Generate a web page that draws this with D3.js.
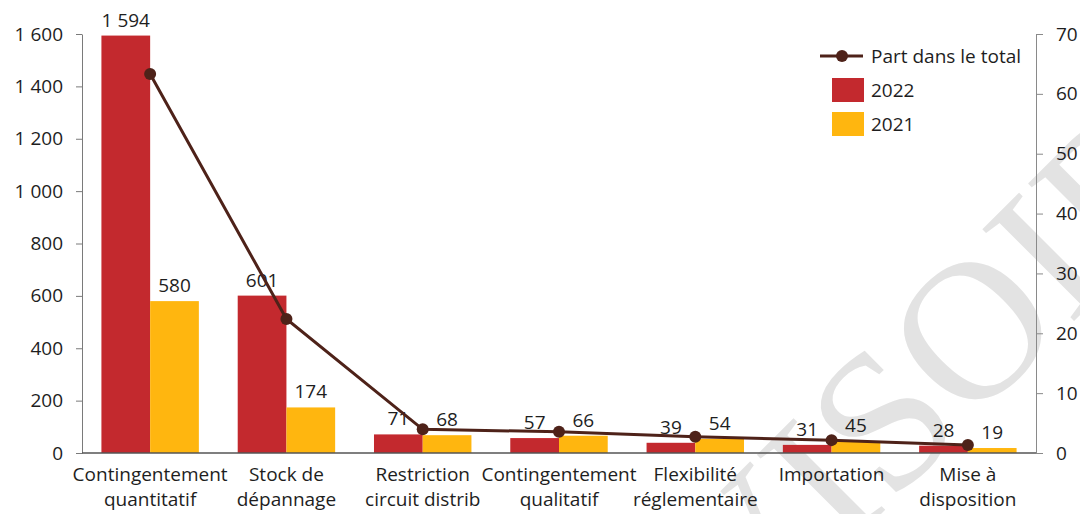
<!DOCTYPE html>
<html>
<head>
<meta charset="utf-8">
<script src="https://cdn.jsdelivr.net/npm/d3@7"></script>
<style>
  body { margin: 0; background: #fff; }
  text { font-family: "Open Sans", sans-serif; }
</style>
</head>
<body>
<svg width="1080" height="514"></svg>
<script>
// Data
var categories = [
  ["Contingentement", "quantitatif"],
  ["Stock de", "dépannage"],
  ["Restriction", "circuit distrib"],
  ["Contingentement", "qualitatif"],
  ["Flexibilité", "réglementaire"],
  ["Importation"],
  ["Mise à", "disposition"]
];
var values2022 = [1594, 601, 71, 57, 39, 31, 28];
var values2021 = [580, 174, 68, 66, 54, 45, 19];
var shareTotal = [63.3, 22.4, 3.95, 3.55, 2.7, 2.15, 1.35];
var leftTicks = [0, 200, 400, 600, 800, 1000, 1200, 1400, 1600];
var rightTicks = [0, 10, 20, 30, 40, 50, 60, 70];
var seriesNames = ["2022", "2021"];
var lineName = "Part dans le total";

var red = "#c3292e", orange = "#ffb60f", brown = "#4e2219", ink = "#1e1e1e";

// plot area
var pLeft = 82, pRight = 1036, pTop = 34, pBottom = 453;

var svg = d3.select("svg");

var fr = d3.formatLocale({decimal: ",", thousands: " ", grouping: [3], currency: ["", " €"]});
var fmt = fr.format(",d");

// Watermark
svg.append("text")
  .attr("transform", "translate(470,925) rotate(-45)")
  .style("font-family", "'Liberation Serif', serif")
  .attr("font-size", 198)
  .attr("fill", "#e3e3e3")
  .text("PROVISOIRE");

// Scales
var x0 = d3.scaleBand()
  .domain(d3.range(categories.length))
  .range([pLeft, pRight])
  .paddingInner(0.285)
  .paddingOuter(0.1425);

var x1 = d3.scaleBand()
  .domain([0, 1])
  .range([0, x0.bandwidth()]);

var yL = d3.scaleLinear().domain([0, 1600]).range([pBottom, pTop]);
var yR = d3.scaleLinear().domain([0, 70]).range([pBottom, pTop]);

// Left axis
var gL = svg.append("g")
  .attr("transform", "translate(" + pLeft + ",0)")
  .call(d3.axisLeft(yL).tickValues(leftTicks).tickFormat(fmt).tickSize(6).tickSizeOuter(0).tickPadding(13));
gL.select(".domain").attr("stroke", "#7a7a7a");
gL.selectAll(".tick line").attr("stroke", "#7a7a7a");
gL.selectAll("text").attr("font-size", 19).attr("fill", ink).style("font-family", "'Open Sans', sans-serif");

// Right axis
var gR = svg.append("g")
  .attr("transform", "translate(" + pRight + ",0)")
  .call(d3.axisRight(yR).tickValues(rightTicks).tickSize(7).tickSizeOuter(0).tickPadding(13));
gR.select(".domain").attr("stroke", "#8a8a8a");
gR.selectAll(".tick line").attr("stroke", "#8a8a8a");
gR.selectAll("text").attr("font-size", 19).attr("fill", ink).style("font-family", "'Open Sans', sans-serif");

// Bars
var bars = svg.append("g");
[values2022, values2021].forEach(function(vals, s) {
  bars.selectAll(".bar" + s)
      .data(vals)
    .enter().append("rect")
      .attr("class", "bar" + s)
      .attr("x", function(d, i) { return x0(i) + x1(s); })
      .attr("y", function(d) { return yL(d); })
      .attr("width", x1.bandwidth())
      .attr("height", function(d) { return yL(0) - yL(d); })
      .attr("fill", s === 0 ? red : orange);

  bars.selectAll(".lab" + s)
      .data(vals)
    .enter().append("text")
      .attr("class", "lab" + s)
      .attr("x", function(d, i) { return x0(i) + x1(s) + x1.bandwidth() / 2; })
      .attr("y", function(d) { return yL(d) - 9; })
      .attr("text-anchor", "middle")
      .attr("font-size", 19)
      .attr("fill", ink)
      .text(function(d) { return fmt(d); });
});

// Baseline
svg.append("line")
  .attr("x1", pLeft).attr("x2", pRight)
  .attr("y1", yL(0)).attr("y2", yL(0))
  .attr("stroke", "#555")
  .attr("stroke-width", 1.3);

// Category labels
var cat = svg.append("g");
categories.forEach(function(lines, i) {
  var t = cat.append("text")
    .attr("text-anchor", "middle")
    .attr("font-size", 19)
    .attr("fill", ink);
  lines.forEach(function(l, j) {
    t.append("tspan")
      .attr("x", x0(i) + x0.bandwidth() / 2)
      .attr("y", 481 + j * 25)
      .text(l);
  });
});

// Line
var line = d3.line()
  .x(function(d, i) { return x0(i) + x0.bandwidth() / 2; })
  .y(function(d) { return yR(d); });

svg.append("path")
  .datum(shareTotal)
  .attr("d", line)
  .attr("fill", "none")
  .attr("stroke", brown)
  .attr("stroke-width", 3);

svg.selectAll(".dot")
    .data(shareTotal)
  .enter().append("circle")
    .attr("class", "dot")
    .attr("cx", function(d, i) { return x0(i) + x0.bandwidth() / 2; })
    .attr("cy", function(d) { return yR(d); })
    .attr("r", 6)
    .attr("fill", brown);

// Legend
var lg = svg.append("g");
lg.append("line")
  .attr("x1", 820).attr("x2", 863).attr("y1", 56).attr("y2", 56)
  .attr("stroke", brown).attr("stroke-width", 3);
lg.append("circle")
  .attr("cx", 842).attr("cy", 56).attr("r", 6).attr("fill", brown);
lg.append("text")
  .attr("x", 871).attr("y", 63)
  .attr("font-size", 19).attr("fill", ink)
  .text(lineName);

lg.selectAll(".sw")
    .data(seriesNames)
  .enter().append("rect")
    .attr("class", "sw")
    .attr("x", 832)
    .attr("y", function(d, i) { return 78 + i * 34; })
    .attr("width", 32).attr("height", 24)
    .attr("fill", function(d, i) { return i === 0 ? red : orange; });

lg.selectAll(".swt")
    .data(seriesNames)
  .enter().append("text")
    .attr("class", "swt")
    .attr("x", 871)
    .attr("y", function(d, i) { return 97 + i * 34; })
    .attr("font-size", 19).attr("fill", ink)
    .text(function(d) { return d; });
</script>
</body>
</html>
